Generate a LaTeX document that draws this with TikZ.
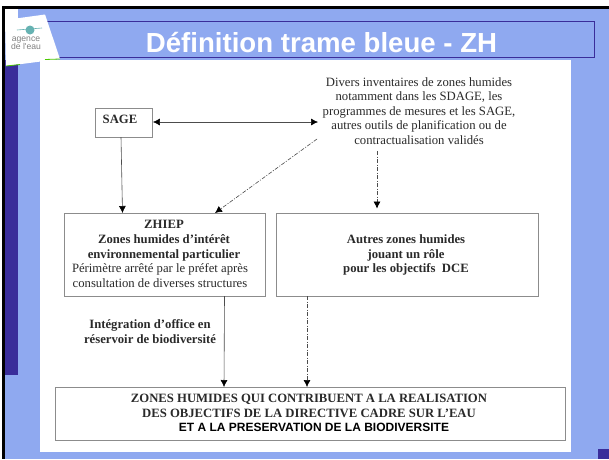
\documentclass[tikz,border=0pt]{standalone}
\usepackage{fontspec}
\setmainfont{Liberation Serif}
\newfontfamily\arialf{Liberation Sans}
\usetikzlibrary{arrows.meta}
\definecolor{slidebg}{HTML}{8FA9F0}
\definecolor{slidedark}{HTML}{3A2D9A}
\definecolor{boxline}{HTML}{8C8C8C}
\definecolor{txt}{HTML}{2A2A2A}
\tikzset{
  px/.style={x=1pt,y=-1pt},
  flowbox/.style={draw=boxline,line width=0.9pt,fill=white,inner sep=0pt,anchor=north west},
  lbl/.style={align=center,text=txt,font=\fontsize{12.7}{14.6}\selectfont,inner sep=0pt},
  blbl/.style={align=center,text=txt,font=\fontsize{12.7}{14.6}\selectfont\bfseries,inner sep=0pt},
  arrowline/.style={draw=black!70,line width=0.6pt,-{Latex[length=7pt,width=7pt,black]}},
  dashline/.style={arrowline,dash pattern=on 4pt off 1.5pt on 1pt off 1.5pt},
}
\begin{document}
\begin{tikzpicture}[px]
\useasboundingbox (0,0) rectangle (609,459);
\fill[white] (0,0) rectangle (609,459);
\fill[slidebg] (5,8) rectangle (609,459);
\fill[black] (2,6) rectangle (609,8.5);
\fill[black] (2,6) rectangle (5,459);
\fill[slidedark] (5,60) rectangle (18,375);
\fill[slidedark] (598,449) rectangle (609,459);
\fill[white] (40,60) rectangle (571,452);
\draw[slidedark,line width=0.7pt,fill=slidebg] (46,21.5) rectangle (594,57.5);
\fill[white] (5,8.5) rectangle (18,20);
\fill[white] (5,20) -- (45,14.5) -- (60,59) -- (6,66) -- cycle;
\draw[green!70!black!70!yellow,line width=0.8pt] (6,66) -- (20,64.5);
\draw[green!70!black!70!yellow,line width=0.8pt] (45,59.5) -- (60,59);
% logo
\fill[teal!60] (30,30) circle (4.5);
\draw[teal!60,line width=0.6pt] (17,30) -- (42,28);
\node[font=\fontsize{8.6}{8.5}\selectfont\arialf,text=gray,inner sep=0pt,align=center] (logotext) at (26,43) {agence\\de l'eau};
% title
\node[font=\fontsize{27.6}{30}\selectfont\arialf\bfseries,text=white,inner sep=0pt] (title) at (321.5,42.5) {Définition trame bleue - ZH};
% boxes
\node[flowbox,minimum width=57pt,minimum height=29pt] (sage) at (95,108) {};
\node[blbl] (sagetext) at (120,119.5) {SAGE};
\node[flowbox,minimum width=201pt,minimum height=83pt] (zhiep) at (64,213) {};
\node[flowbox,minimum width=262pt,minimum height=83pt] (autres) at (276,213) {};
\node[flowbox,minimum width=510pt,minimum height=53pt] (zones) at (54.5,387) {};
% texts
\node[lbl] (divers) at (419,111) {Divers inventaires de zones humides\\notamment dans les SDAGE, les\\programmes de mesures et les SAGE,\\autres outils de planification ou de\\contractualisation validés};
\node[align=center,inner sep=0pt,text=txt,font=\fontsize{12.7}{14.6}\selectfont] (zhieptext) at (164,254) {\textbf{ZHIEP}\\\textbf{Zones humides d'intérêt}\\\textbf{environnemental particulier}\\Périmètre arrêté par le préfet après\kern8pt\\consultation de diverses structures\kern8pt};
\node[blbl] (autrestext) at (406,255) {Autres zones humides\\jouant un rôle\\pour les objectifs~~DCE};
\node[blbl] (integ) at (150,331.5) {Intégration d'office en\\réservoir de biodiversité};
\node[align=center,inner sep=0pt,text=txt,font=\fontsize{12.7}{14.4}\selectfont\bfseries] (zonestext) at (309,413) {ZONES HUMIDES QUI CONTRIBUENT A LA REALISATION\\DES OBJECTIFS DE LA DIRECTIVE CADRE SUR L'EAU\\\kern10pt{\arialf\fontsize{12}{14.4}\selectfont\color{black} ET A LA PRESERVATION DE LA BIODIVERSITE}};
% connectors
\coordinate (dl) at (318,122);
\coordinate (dd) at (317,139);
\draw[arrowline,{Latex[length=7pt,width=7pt,black]}-{Latex[length=7pt,width=7pt,black]}] (sage.east |- 0,122) -- (dl);
\draw[arrowline] (121,137) -- (122.5,213);
\draw[dashline] (dd) -- (215,213);
\draw[dashline] (377,151) -- (377,208.5);
\draw[arrowline] (224.5,296) -- (224,387);
\draw[dashline] (307,296) -- (307,387);
\end{tikzpicture}
\end{document}
